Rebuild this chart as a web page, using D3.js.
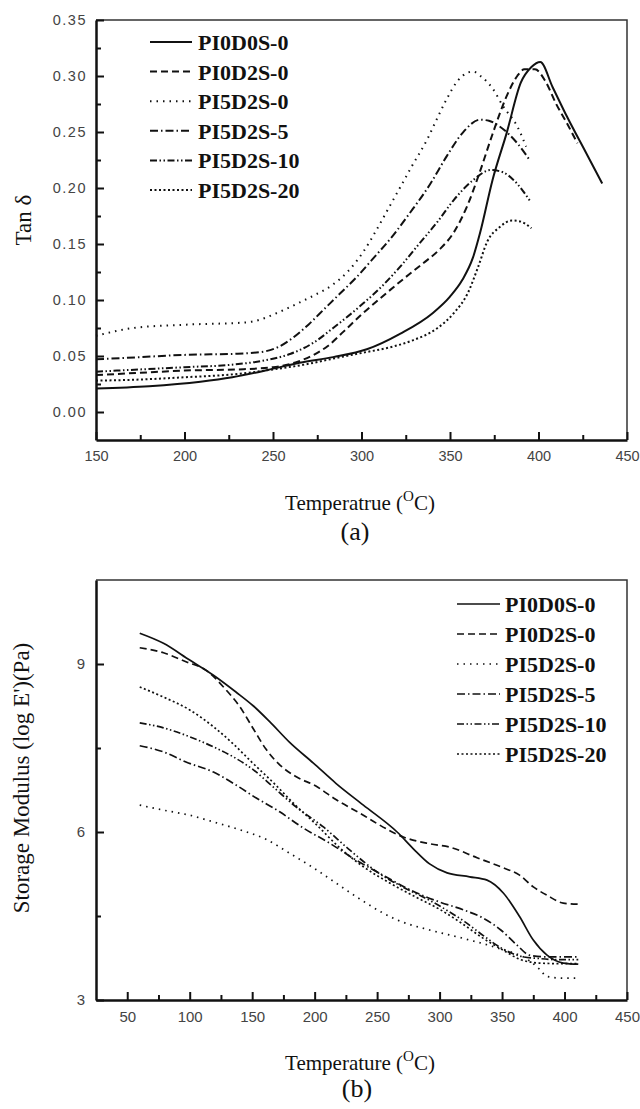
<!DOCTYPE html>
<html>
<head>
<meta charset="utf-8">
<script src="https://cdn.jsdelivr.net/npm/d3@7"></script>
<style>
    body { margin: 0; background: #fff; }
    .tick text { font-family: "Liberation Sans", Arial, sans-serif; fill: #444; }
    .axis-title { font-family: "Liberation Serif", "Times New Roman", serif; fill: #111; }
    .legend-label { font-family: "Liberation Serif", "Times New Roman", serif; font-weight: bold; font-size: 22px; fill: #111; }
</style>
</head>
<body>
<div id="chart"></div>
<script>
// series names (same for both panels)
const seriesNames = ["PI0D0S-0", "PI0D2S-0", "PI5D2S-0", "PI5D2S-5", "PI5D2S-10", "PI5D2S-20"];

// (a) tan delta vs temperature, [T, tan delta]
const tanPI0D0S0 = [[150,0.021],[180,0.023],[209,0.027],[227,0.031],[247,0.0375],[265,0.044],[284,0.049],[303,0.056],[322,0.07],[340,0.088],[350,0.103],[357,0.118],[363,0.138],[367,0.16],[374,0.207],[382,0.249],[390,0.294],[396,0.308],[401,0.3125],[408,0.29],[416,0.264],[427,0.231],[436,0.204]];
const tanPI0D2S0 = [[150,0.033],[175,0.035],[200,0.037],[230,0.038],[250,0.040],[264,0.045],[273,0.051],[281,0.059],[290,0.072],[300,0.087],[311,0.102],[320,0.114],[327,0.123],[335,0.133],[344,0.145],[352,0.16],[360,0.185],[367,0.215],[374,0.248],[382,0.282],[388,0.300],[392,0.306],[398,0.306],[404,0.295],[410,0.275],[416,0.258],[422,0.24]];
const tanPI5D2S0 = [[150,0.068],[171,0.075],[201,0.078],[235,0.080],[256,0.091],[264,0.097],[273,0.104],[284,0.114],[292,0.125],[301,0.143],[309,0.164],[316,0.184],[322,0.201],[329,0.221],[337,0.243],[343,0.263],[348,0.279],[354,0.295],[360,0.303],[363,0.304],[368,0.299],[374,0.289],[380,0.273],[388,0.255],[393,0.237]];
const tanPI5D2S5 = [[150,0.047],[175,0.049],[200,0.051],[230,0.052],[245,0.054],[253,0.058],[261,0.066],[270,0.078],[279,0.092],[288,0.106],[297,0.12],[306,0.136],[318,0.158],[327,0.177],[339,0.204],[348,0.228],[357,0.249],[367,0.261],[372,0.26],[378,0.255],[388,0.24],[395,0.225]];
const tanPI5D2S10 = [[150,0.036],[175,0.038],[200,0.040],[225,0.042],[245,0.046],[260,0.052],[273,0.062],[284,0.075],[301,0.097],[312,0.113],[322,0.13],[333,0.151],[343,0.170],[352,0.189],[363,0.207],[373,0.216],[380,0.214],[386,0.207],[395,0.189]];
const tanPI5D2S20 = [[150,0.028],[175,0.029],[200,0.031],[230,0.034],[250,0.038],[270,0.043],[285,0.048],[301,0.053],[314,0.057],[329,0.064],[343,0.075],[352,0.088],[360,0.106],[366,0.13],[371,0.152],[378,0.165],[385,0.171],[390,0.17],[396,0.164]];

// (b) storage modulus vs temperature, [T, log E']
const emPI0D0S0 = [[60,9.55],[79,9.37],[100,9.07],[119,8.8],[137,8.5],[151,8.25],[164,7.97],[180,7.6],[199,7.23],[217,6.87],[239,6.48],[266,6.0],[279,5.7],[292,5.43],[306,5.27],[324,5.2],[338,5.14],[351,4.91],[364,4.49],[375,4.07],[386,3.8],[399,3.66],[411,3.64]];
const emPI0D2S0 = [[60,9.29],[79,9.2],[97,9.04],[113,8.89],[129,8.54],[140,8.24],[151,7.84],[161,7.48],[172,7.2],[185,6.99],[201,6.82],[217,6.58],[239,6.3],[250,6.15],[271,5.91],[292,5.79],[308,5.73],[330,5.54],[351,5.36],[364,5.23],[375,5.02],[386,4.87],[399,4.73],[411,4.71]];
const emPI5D2S0 = [[60,6.48],[79,6.39],[100,6.3],[119,6.18],[140,6.04],[161,5.87],[180,5.62],[199,5.36],[217,5.09],[235,4.82],[255,4.55],[266,4.43],[292,4.25],[319,4.1],[346,3.93],[372,3.7],[380,3.55],[386,3.42],[399,3.39],[411,3.39]];
const emPI5D2S5 = [[60,7.54],[79,7.43],[97,7.25],[119,7.07],[137,6.84],[153,6.61],[172,6.36],[191,6.07],[212,5.8],[233,5.5],[257,5.2],[278,4.95],[300,4.75],[319,4.61],[335,4.46],[349,4.25],[362,3.98],[372,3.8],[386,3.77],[411,3.77]];
const emPI5D2S10 = [[60,7.95],[79,7.86],[100,7.7],[119,7.52],[135,7.34],[151,7.11],[167,6.8],[185,6.45],[207,6.09],[228,5.68],[251,5.27],[272,5.0],[292,4.78],[306,4.6],[320,4.4],[335,4.15],[350,3.92],[365,3.78],[380,3.74],[395,3.72],[411,3.72]];
const emPI5D2S20 = [[60,8.59],[79,8.41],[100,8.18],[119,7.88],[135,7.57],[150,7.24],[167,6.88],[185,6.47],[201,6.14],[220,5.72],[239,5.38],[260,5.09],[280,4.85],[300,4.62],[319,4.35],[335,4.1],[350,3.9],[365,3.72],[380,3.66],[395,3.65],[411,3.65]];

// ticks
const tanXTicks = [150, 200, 250, 300, 350, 400, 450];
const tanXMinor = [175, 225, 275, 325, 375, 425];
const tanYTicks = [0, 0.05, 0.10, 0.15, 0.20, 0.25, 0.30, 0.35];
const tanYMinor = [0.025, 0.075, 0.125, 0.175, 0.225, 0.275, 0.325];
const emXTicks = [50, 100, 150, 200, 250, 300, 350, 400, 450];
const emXMinor = [75, 125, 175, 225, 275, 325, 375, 425];
const emYTicks = [3, 6, 9];
const emYMinor = [4.5, 7.5];

// line styles for the six series
const dashes = [null, "7,4", "1.5,5", "8,3,1.5,3", "7,2.5,1.5,2.5,1.5,2.5", "2,2.5"];

class DmaVis {
    constructor(svg, config) {
        this.svg = svg;
        this.config = config;
        this.initVis();
    }

    initVis() {
        let vis = this;
        let c = vis.config;

        vis.x = d3.scaleLinear().domain(c.xDomain).range([c.left, c.right]);
        vis.y = d3.scaleLinear().domain(c.yDomain).range([c.bottom, c.top]);

        vis.g = vis.svg.append("g");

        // top and right frame
        vis.g.append("path")
            .attr("d", `M${c.left},${c.top}H${c.right}V${c.bottom}`)
            .attr("fill", "none")
            .attr("stroke", "#333")
            .attr("stroke-width", 1.5);

        // minor ticks
        vis.g.append("g")
            .attr("transform", `translate(0,${c.bottom})`)
            .call(d3.axisBottom(vis.x).tickValues(c.xMinor).tickSize(-5).tickFormat(""))
            .call(g => g.select(".domain").remove());
        vis.g.append("g")
            .attr("transform", `translate(${c.left},0)`)
            .call(d3.axisLeft(vis.y).tickValues(c.yMinor).tickSize(-5).tickFormat(""))
            .call(g => g.select(".domain").remove());

        // major ticks + labels
        vis.xAxis = vis.g.append("g")
            .attr("transform", `translate(0,${c.bottom})`)
            .call(d3.axisBottom(vis.x).tickValues(c.xTicks).tickSizeInner(-8).tickSizeOuter(0).tickPadding(c.xPad).tickFormat(d3.format("d")));
        vis.yAxis = vis.g.append("g")
            .attr("transform", `translate(${c.left},0)`)
            .call(d3.axisLeft(vis.y).tickValues(c.yTicks).tickSizeInner(-8).tickSizeOuter(0).tickPadding(c.yPad).tickFormat(c.yFormat));

        vis.g.selectAll(".tick line").attr("stroke", "#111").attr("stroke-width", 2);
        vis.g.selectAll(".tick text").style("font-size", c.tickFont + "px");
        vis.yAxis.selectAll(".tick text").style("letter-spacing", c.yLetter + "px");
        vis.xAxis.select(".domain").attr("stroke", "#111").attr("stroke-width", 2.5);
        vis.yAxis.select(".domain").attr("stroke", "#111").attr("stroke-width", 2.5);

        // curves
        let line = d3.line()
            .x(d => vis.x(d[0]))
            .y(d => vis.y(d[1]))
            .curve(d3.curveMonotoneX);

        c.series.forEach((s, i) => {
            vis.g.append("path")
                .attr("d", line(s))
                .attr("fill", "none")
                .attr("stroke", "#111")
                .attr("stroke-width", c.lineWidth)
                .attr("stroke-dasharray", dashes[i]);
        });

        // legend
        seriesNames.forEach((name, i) => {
            let by = c.legend.y + i * c.legend.step;
            vis.g.append("line")
                .attr("x1", c.legend.x1).attr("x2", c.legend.x2)
                .attr("y1", by - 8).attr("y2", by - 8)
                .attr("stroke", "#111")
                .attr("stroke-width", c.lineWidth)
                .attr("stroke-dasharray", dashes[i]);
            vis.g.append("text")
                .attr("class", "legend-label")
                .attr("x", c.legend.tx)
                .attr("y", by)
                .text(name);
        });

        // y title
        vis.g.append("text")
            .attr("class", "axis-title")
            .attr("transform", `translate(${c.yTitle.x},${c.yTitle.y}) rotate(-90)`)
            .attr("text-anchor", "middle")
            .style("font-size", "23px")
            .text(c.yTitle.text);

        // x title with superscript
        let xt = vis.g.append("text")
            .attr("class", "axis-title")
            .attr("x", c.xTitle.x)
            .attr("y", c.xTitle.y)
            .attr("text-anchor", "middle")
            .style("font-size", "21px");
        xt.append("tspan").text(c.xTitle.text + " (");
        xt.append("tspan").attr("dy", -9).style("font-size", "15px").text("O");
        xt.append("tspan").attr("dy", 9).text("C)");

        // panel letter
        vis.g.append("text")
            .attr("class", "axis-title")
            .attr("x", c.panel.x)
            .attr("y", c.panel.y)
            .attr("text-anchor", "middle")
            .style("font-size", "26px")
            .text(c.panel.text);
    }
}

let svg = d3.select("#chart").append("svg")
    .attr("width", 640)
    .attr("height", 1109);

new DmaVis(svg, {
    left: 96, right: 627, top: 20, bottom: 440,
    xDomain: [150, 450], yDomain: [-0.025, 0.35],
    xTicks: tanXTicks, xMinor: tanXMinor, yTicks: tanYTicks, yMinor: tanYMinor,
    yFormat: d3.format(".2f"), xPad: 11, yPad: 9, tickFont: 14.5, yLetter: 1.5,
    lineWidth: 2,
    series: [tanPI0D0S0, tanPI0D2S0, tanPI5D2S0, tanPI5D2S5, tanPI5D2S10, tanPI5D2S20],
    legend: {x1: 150, x2: 192, tx: 198, y: 50, step: 29.6},
    yTitle: {x: 31, y: 220, text: "Tan δ"},
    xTitle: {x: 360, y: 510, text: "Temperatrue"},
    panel: {x: 355, y: 540, text: "(a)"}
});

new DmaVis(svg, {
    left: 96, right: 627, top: 580, bottom: 1000,
    xDomain: [25, 450], yDomain: [3, 10.5],
    xTicks: emXTicks, xMinor: emXMinor, yTicks: emYTicks, yMinor: emYMinor,
    yFormat: d3.format("d"), xPad: 11, yPad: 11, tickFont: 15, yLetter: 0,
    lineWidth: 1.7,
    series: [emPI0D0S0, emPI0D2S0, emPI5D2S0, emPI5D2S5, emPI5D2S10, emPI5D2S20],
    legend: {x1: 457, x2: 500, tx: 505, y: 612, step: 30},
    yTitle: {x: 29, y: 778, text: "Storage Modulus (log E')(Pa)"},
    xTitle: {x: 360, y: 1070, text: "Temperature"},
    panel: {x: 357, y: 1097, text: "(b)"}
});
</script>
</body>
</html>
